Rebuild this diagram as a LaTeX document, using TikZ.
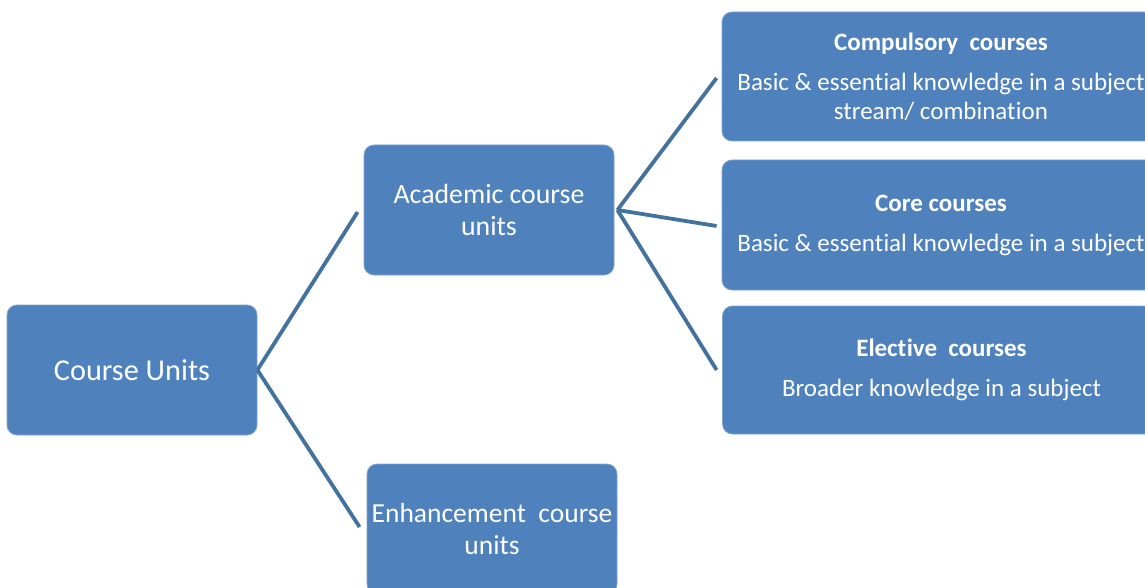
\documentclass[tikz,border=0pt]{standalone}
\usepackage{fontspec}
\setmainfont{Carlito}[RawFeature={-liga;-clig;-calt;-dlig;-hlig}]
\newcommand{\nl}{\kern0.4pt}
\definecolor{boxblue}{HTML}{4F81BD}
\definecolor{boxedge}{HTML}{7FA3CF}
\definecolor{linkblue}{HTML}{44729F}
\begin{document}
\begin{tikzpicture}[x=1pt,y=-1pt,
  box/.style={fill=boxblue, draw=boxedge, line width=0.8pt, rounded corners=10pt,
              text=white, align=center, inner sep=0pt},
  link/.style={draw=linkblue, line width=3.8pt},
  desc/.style={font=\fontsize{25}{29}\selectfont}]
\useasboundingbox (0,0) rectangle (1145,588);
\clip (0,0) rectangle (1145,588);
\node[box, minimum width=250pt, minimum height=130pt, font=\fontsize{30.3}{36}\selectfont] (cu) at (132,370) {Course Units};
\node[box, minimum width=250pt, minimum height=130pt, font=\fontsize{27.8}{32}\selectfont] (acad) at (489,210) {Academic course\\units};
\node[box, minimum width=250pt, minimum height=130pt, font=\fontsize{27.5}{32}\selectfont] (enh) at (492,529) {Enhancement\ \ course\\units};
\node[box, desc, minimum width=438pt, minimum height=129pt] (comp) at (941,76.5) {\textbf{Compulsory\ \ courses}\\[11pt]Basic \& essent\nl ial knowledge in a subject\\stream/ combinat\nl ion};
\node[box, desc, minimum width=438pt, minimum height=130pt] (core) at (941,225) {\textbf{Core courses}\\[11pt]Basic \& essent\nl ial knowledge in a subject};
\node[box, desc, minimum width=438pt, minimum height=128pt] (elec) at (941.5,370) {\textbf{Elect\nl ive\ \ courses}\\[11pt]Broader knowledge in a subject};
\draw[link] (cu.east) -- ([xshift=-6pt,yshift=-2pt]acad.west);
\draw[link] (cu.east) -- ([xshift=-7pt,yshift=2pt]enh.west);
\draw[link] ([xshift=3pt]acad.east) -- ([xshift=-5pt,yshift=-1.5pt]comp.west);
\draw[link] ([xshift=3pt]acad.east) -- ([xshift=-5pt,yshift=-1pt]core.west);
\draw[link] ([xshift=3pt]acad.east) -- ([xshift=-5.5pt]elec.west);
\end{tikzpicture}
\end{document}
